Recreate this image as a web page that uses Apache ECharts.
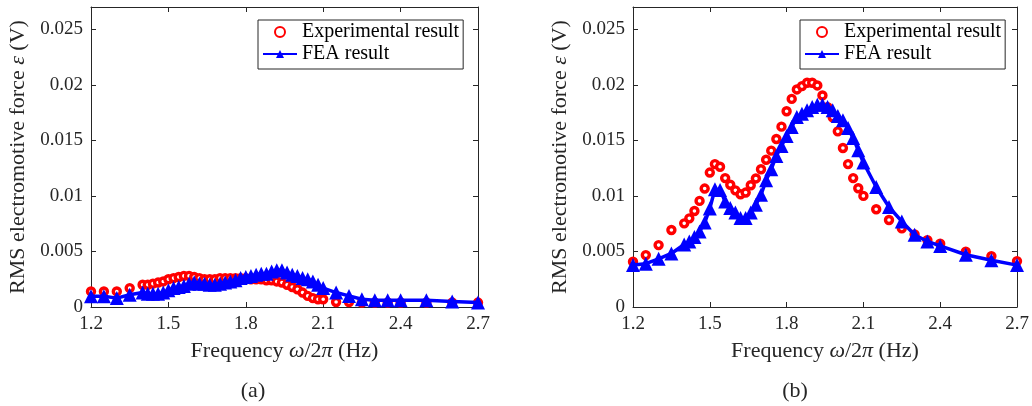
<!DOCTYPE html>
<html>
<head>
<meta charset="utf-8">
<script src="https://cdn.jsdelivr.net/npm/echarts@6/dist/echarts.min.js"></script>
<style>html,body{margin:0;padding:0;background:#fff}#c{width:1032px;height:406px}</style>
</head>
<body>
<div id="c"></div>
<script>
const freq = [1.2,1.25,1.3,1.35,1.4,1.42,1.44,1.46,1.48,1.5,1.52,1.54,1.56,1.58,1.6,1.62,1.64,1.66,1.68,1.7,1.72,1.74,1.76,1.78,1.8,1.82,1.84,1.86,1.88,1.9,1.92,1.94,1.96,1.98,2.0,2.02,2.04,2.06,2.08,2.1,2.15,2.2,2.25,2.3,2.35,2.4,2.5,2.6,2.7];
const expA = [0.0014,0.0014,0.0014,0.0017,0.0020,0.0020,0.0021,0.0022,0.0023,0.0025,0.0026,0.0027,0.0028,0.0028,0.0027,0.0026,0.0025,0.0025,0.0025,0.0026,0.0026,0.0026,0.0026,0.0026,0.0026,0.0025,0.0025,0.0025,0.0024,0.0024,0.0023,0.0022,0.0020,0.0018,0.0016,0.0013,0.0010,0.0008,0.0007,0.0007,0.00045,0.00045,0.0004,0.0004,0.0004,0.0004,0.0004,0.0004,0.0004];
const feaA = [0.00097,0.00097,0.0008,0.0011,0.0013,0.0012,0.0012,0.0012,0.0013,0.0015,0.0017,0.0018,0.0019,0.0021,0.0022,0.0021,0.0021,0.0020,0.0020,0.0021,0.0022,0.0023,0.0024,0.0026,0.0027,0.0028,0.0029,0.0030,0.0030,0.0032,0.0033,0.0033,0.0031,0.0029,0.0028,0.0026,0.0025,0.0023,0.0020,0.0017,0.0013,0.0010,0.0007,0.0006,0.0006,0.0006,0.0006,0.0005,0.0004];
const expB = [0.00407,0.00467,0.00557,0.00693,0.00753,0.00798,0.00864,0.00955,0.01066,0.0121,0.01286,0.01262,0.0116,0.011,0.0105,0.01015,0.0103,0.01096,0.01157,0.0124,0.01325,0.01407,0.01512,0.01623,0.01762,0.01873,0.01958,0.01988,0.02018,0.02018,0.01994,0.01904,0.01798,0.01708,0.01581,0.01431,0.01286,0.0116,0.01069,0.0100,0.0088,0.00783,0.00708,0.00654,0.00602,0.00569,0.00497,0.00458,0.00413];
const feaB = [0.00377,0.0039,0.00434,0.00482,0.00563,0.0059,0.0063,0.0068,0.0076,0.00886,0.0106,0.01054,0.0095,0.0089,0.0085,0.0080,0.0080,0.0085,0.0092,0.0101,0.0114,0.0124,0.0136,0.0145,0.0154,0.0162,0.0171,0.0174,0.0177,0.0180,0.0182,0.0182,0.0180,0.0177,0.0172,0.0168,0.0161,0.0152,0.0141,0.0130,0.0108,0.0090,0.0077,0.0065,0.0059,0.0055,0.0047,0.0042,0.00377];
const xTicks = ['1.2','1.5','1.8','2.1','2.4','2.7'];
const yTicks = ['0','0.005','0.01','0.015','0.02','0.025'];
const seriesNames = ['Experimental result','FEA result'];
const panelLabels = ['(a)','(b)'];

const FONT = "'Liberation Serif', 'DejaVu Serif', serif";
const INK = '#262626';
const chart = echarts.init(document.getElementById('c'), null, {renderer:'canvas'});

const grids = [
  {left:91, top:7, width:387, height:300},
  {left:633, top:7, width:384, height:300}
];
function pair(a){ return a.map((v,i)=>[freq[i], v]); }
function xLabel(v){ const s = v.toFixed(1); return xTicks.indexOf(s) >= 0 ? s : ''; }
function yLabel(v){ const s = String(+v.toFixed(3)); return yTicks.indexOf(s) >= 0 ? s : ''; }

const xAxis = [], yAxis = [], series = [], legend = [], title = [];
grids.forEach((g, k) => {
  xAxis.push({type:'value', gridIndex:k, min:1.2, max:2.7, interval:0.3, position:'bottom',
    name:'Frequency {i|ω}/2{i|π} (Hz)', nameLocation:'middle', nameGap:33,
    nameTextStyle:{fontFamily:FONT, fontSize:22, color:INK, rich:{i:{fontFamily:FONT, fontSize:22, fontStyle:'italic', color:INK}}},
    axisLine:{show:true, lineStyle:{color:INK, width:1}},
    axisTick:{show:true, inside:true, length:5, lineStyle:{color:INK}},
    axisLabel:{fontFamily:FONT, fontSize:19, color:INK, margin:8, formatter:xLabel},
    splitLine:{show:false}});
  xAxis.push({type:'value', gridIndex:k, min:1.2, max:2.7, interval:0.3, position:'top',
    axisLine:{show:true, onZero:false, lineStyle:{color:INK, width:1}},
    axisTick:{show:true, inside:true, length:5, lineStyle:{color:INK}},
    axisLabel:{show:false}, splitLine:{show:false}});
  yAxis.push({type:'value', gridIndex:k, min:0, max:0.027, interval:0.005, position:'left',
    name:'RMS electromotive force {i|ε} (V)', nameLocation:'middle', nameGap:62, nameRotate:90,
    nameTextStyle:{fontFamily:FONT, fontSize:22, color:INK, rich:{i:{fontFamily:FONT, fontSize:22, fontStyle:'italic', color:INK}}},
    axisLine:{show:true, onZero:false, lineStyle:{color:INK, width:1}},
    axisTick:{show:true, inside:true, length:5, lineStyle:{color:INK}},
    axisLabel:{fontFamily:FONT, fontSize:19, color:INK, margin:8, formatter:yLabel, showMaxLabel:false},
    splitLine:{show:false}});
  yAxis.push({type:'value', gridIndex:k, min:0, max:0.027, interval:0.005, position:'right',
    axisLine:{show:true, onZero:false, lineStyle:{color:INK, width:1}},
    axisTick:{show:true, inside:true, length:5, lineStyle:{color:INK}},
    axisLabel:{show:false}, splitLine:{show:false}});
  const ex = k === 0 ? expA : expB;
  const fe = k === 0 ? feaA : feaB;
  series.push({type:'scatter', name:seriesNames[0], xAxisIndex:2*k, yAxisIndex:2*k, data:pair(ex),
    symbol:'circle', symbolSize:7, z:2,
    itemStyle:{color:'#ffffff', borderColor:'#ff0000', borderWidth:3.4, opacity:1}});
  series.push({type:'line', name:seriesNames[1], xAxisIndex:2*k, yAxisIndex:2*k, data:pair(fe),
    symbol:'triangle', symbolSize:14, showAllSymbol:true, z:3,
    lineStyle:{color:'#0000ff', width:3.5},
    itemStyle:{color:'#0000ff', borderWidth:0}});
  legend.push({data:seriesNames, orient:'vertical', left: k === 0 ? 258 : 800, top:20,
    itemWidth:34, itemHeight:10, itemGap:2, padding:[2,4,5,4],
    backgroundColor:'#fff', borderColor:INK, borderWidth:1, selectedMode:false,
    textStyle:{fontFamily:FONT, fontSize:20, color:'#000', lineHeight:20}});
  title.push({text:panelLabels[k], left: k === 0 ? 248 : 790, top:375, textAlign:'center',
    textStyle:{fontFamily:FONT, fontSize:22, fontWeight:'normal', color:INK}});
});

chart.setOption({animation:false, backgroundColor:'#fff', title, grid:grids, xAxis, yAxis, series, legend});
</script>
</body>
</html>
